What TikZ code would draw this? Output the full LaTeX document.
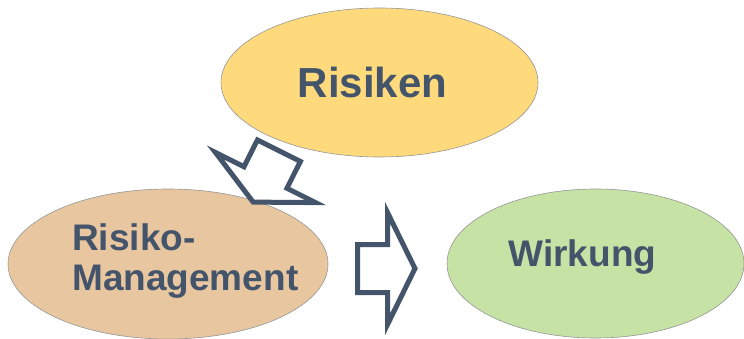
\documentclass[tikz,border=0pt]{standalone}
\usepackage{fontspec}
\setmainfont{Liberation Sans}
\usetikzlibrary{shapes.geometric}
\definecolor{txt}{RGB}{68,84,106}
\definecolor{fillA}{RGB}{255,218,124}
\definecolor{fillB}{RGB}{231,198,160}
\definecolor{fillC}{RGB}{198,227,165}
\definecolor{edge}{RGB}{150,150,150}
\begin{document}
\begin{tikzpicture}[x=1pt,y=-1pt,
  oval/.style={ellipse,draw=edge,line width=0.6pt,inner sep=0pt},
  lbl/.style={text=txt,font=\bfseries,inner sep=0pt},
  blockarrow/.style={draw=txt,line width=5pt,line join=miter,fill=white}]
\useasboundingbox (0,0) rectangle (744,339);
\node[oval,fill=fillA,minimum width=317pt,minimum height=149pt] (risiken) at (379.5,82.5) {};
\node[oval,fill=fillB,minimum width=320pt,minimum height=150pt] (mgmt) at (168,264) {};
\node[oval,fill=fillC,minimum width=297pt,minimum height=149pt] (wirkung) at (595.5,263.5) {};
\node[lbl,anchor=base,font=\fontsize{42}{46}\selectfont\bfseries] (trisiken) at (372.5,98) {Risiken};
\node[lbl,anchor=base west,font=\fontsize{37}{40}\selectfont\bfseries] (tmgmt1) at (72,250) {Risiko-};
\node[lbl,anchor=base west,font=\fontsize{37}{40}\selectfont\bfseries] (tmgmt2) at (72,290) {Management};
\node[lbl,anchor=base,font=\fontsize{37}{40}\selectfont\bfseries] (twirkung) at (582.5,266) {Wirkung};
\begin{scope}[shift={(278.9,150.7)},rotate=-116.6]
\draw[blockarrow] (0,-24) -- (30,-24) -- (30,-56) -- (57.5,0) -- (30,56) -- (30,24) -- (0,24) -- cycle;
\end{scope}
\begin{scope}[shift={(357.5,268.5)}]
\draw[blockarrow] (0,-24) -- (30,-24) -- (30,-56) -- (57.5,0) -- (30,56) -- (30,24) -- (0,24) -- cycle;
\end{scope}
\end{tikzpicture}
\end{document}
